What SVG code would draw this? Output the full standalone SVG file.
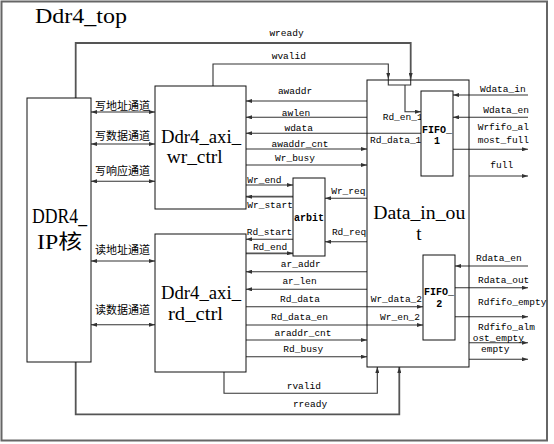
<svg xmlns="http://www.w3.org/2000/svg" width="554" height="444" viewBox="0 0 554 444">
<defs>
<marker id="ah" viewBox="0 0 6 4" refX="6" refY="2" markerWidth="6" markerHeight="4" markerUnits="userSpaceOnUse" orient="auto-start-reverse"><path d="M0,0 L6,2 L0,4 z" fill="#333"/></marker>
<style>
.box{fill:#fff;stroke:#111;stroke-width:1}
.c{fill:none;stroke:#333;stroke-width:1.1}
.cw{fill:none;stroke:#555;stroke-width:1.8}
.a{marker-end:url(#ah)}
.d{marker-start:url(#ah);marker-end:url(#ah)}
.s{font-family:"Liberation Mono","DejaVu Sans Mono",monospace;font-size:9.5px;fill:#000}
.m{text-anchor:middle}
.e{text-anchor:end}
.b{font-family:"Liberation Mono","DejaVu Sans Mono",monospace;font-size:10px;font-weight:bold;fill:#000}
.big{font-family:"Liberation Serif","Noto Sans CJK SC",serif;font-size:18px;fill:#000}
.cn{font-family:"Noto Sans CJK SC",sans-serif;font-size:11px;fill:#000;text-anchor:middle}
</style>
</defs>
<rect x="1.5" y="1.5" width="545.5" height="439" fill="#fff" stroke="#666" stroke-width="2"/>
<text x="35" y="23" class="big" style="font-size:21px" textLength="92" lengthAdjust="spacingAndGlyphs">Ddr4_top</text>

<g id="connectors">
<path class="cw a" d="M75.7,98 V43 H410.7 V79"/>
<path class="c a" d="M213,86 V64 H388.3 V79"/>
<path class="c" d="M388.3,79 V85 H410.7 V79"/>
<path class="c a" d="M405,85 V111.7 H421"/>
<path class="c a" d="M367,101 H246"/>
<path class="c a" d="M367,117.3 H246"/>
<path class="c a" d="M421,133.3 H246"/>
<path class="c a" d="M246,149 H367"/>
<path class="c a" d="M246,165 H367"/>
<path class="c a" d="M246,185 H293"/>
<path class="cw a" d="M293,196.7 H246"/>
<path class="c a" d="M367,198.3 H325"/>
<path class="c a" d="M293,239.3 H246"/>
<path class="c a" d="M367,241.7 H325"/>
<path class="cw a" d="M246,253.3 H293"/>
<path class="c a" d="M367,271.7 H246"/>
<path class="c a" d="M367,289.3 H246"/>
<path class="c a" d="M246,306.7 H423"/>
<path class="c a" d="M246,325 H423"/>
<path class="c a" d="M246,340 H367"/>
<path class="c a" d="M246,356.7 H367"/>
<path class="c a" d="M224,372 V393.3 H377.3 V367"/>
<path class="cw a" d="M75.7,362 V414.3 H399.3 V367"/>
<path class="c d" d="M91,112 H155"/>
<path class="c d" d="M91,144 H155"/>
<path class="c d" d="M91,181.3 H155"/>
<path class="c d" d="M91,261 H155"/>
<path class="c d" d="M91,324.7 H155"/>
<path class="c a" d="M528,95 H453"/>
<path class="c a" d="M528,117.3 H453"/>
<path class="c a" d="M453,149.3 H528"/>
<path class="c a" d="M469,176 H528"/>
<path class="c a" d="M528,266 H455"/>
<path class="c a" d="M455,287.7 H528"/>
<path class="c a" d="M455,316.7 H528"/>
<path class="c a" d="M469,342.7 H528"/>
<path class="c a" d="M469,359.3 H528"/>
</g>

<g id="labels">
<text class="s m" x="286.5" y="36">wready</text>
<text class="s m" x="288.8" y="59">wvalid</text>
<text class="s m" x="295" y="94">awaddr</text>
<text class="s m" x="296" y="115.5">awlen</text>
<text class="s m" x="298.7" y="130.7">wdata</text>
<text class="s m" x="300" y="147">awaddr_cnt</text>
<text class="s m" x="295" y="161">Wr_busy</text>
<text class="s" x="247.3" y="182.5">Wr_end</text>
<text class="s" x="247.3" y="207.5">Wr_start</text>
<text class="s m" x="348.3" y="194">Wr_req</text>
<text class="s" x="246.7" y="235">Rd_start</text>
<text class="s m" x="349" y="235">Rd_req</text>
<text class="s m" x="270" y="250">Rd_end</text>
<text class="s m" x="300.8" y="267">ar_addr</text>
<text class="s m" x="299.5" y="284">ar_len</text>
<text class="s m" x="300" y="301.7">Rd_data</text>
<text class="s e" x="422" y="301.7">Wr_data_2</text>
<text class="s m" x="299.5" y="320">Rd_data_en</text>
<text class="s e" x="420" y="320">Wr_en_2</text>
<text class="s m" x="303" y="336">araddr_cnt</text>
<text class="s m" x="303.3" y="352">Rd_busy</text>
<text class="s m" x="303.8" y="389">rvalid</text>
<text class="s m" x="310" y="407">rready</text>
<text class="s" x="382.7" y="119.5">Rd_en_1</text>
<text class="s" x="370" y="142.5">Rd_data_1</text>
<text class="s" x="480" y="91.7">Wdata_in</text>
<text class="s" x="483.3" y="113.3">Wdata_en</text>
<text class="s" x="477.7" y="130">Wrfifo_al</text>
<text class="s" x="477.7" y="143.3">most_full</text>
<text class="s m" x="501.7" y="168">full</text>
<text class="s" x="476" y="260.7">Rdata_en</text>
<text class="s" x="478" y="283.3">Rdata_out</text>
<text class="s" x="478" y="305">Rdfifo_empty</text>
<text class="s" x="478" y="330">Rdfifo_alm</text>
<text class="s" x="472.7" y="340.5">ost_empty</text>
<text class="s" x="481" y="352">empty</text>
<text class="cn" x="122.5" y="110">写地址通道</text>
<text class="cn" x="122.5" y="140">写数据通道</text>
<text class="cn" x="122.5" y="175">写响应通道</text>
<text class="cn" x="122.5" y="254">读地址通道</text>
<text class="cn" x="122.5" y="314">读数据通道</text>
</g>

<g id="ddr4_ip">
<rect class="box" x="27" y="98" width="64" height="264"/>
<text class="big" x="32" y="223" style="font-size:20px" textLength="55" lengthAdjust="spacingAndGlyphs">DDR4_</text>
<text class="big" x="37" y="249" style="font-size:20px" textLength="45" lengthAdjust="spacingAndGlyphs">IP核</text>
</g>

<g id="wr_ctrl">
<rect class="box" x="155" y="86" width="91" height="123"/>
<text class="big" x="161" y="143" textLength="80" lengthAdjust="spacingAndGlyphs">Ddr4_axi_</text>
<text class="big" x="166.7" y="163" textLength="56" lengthAdjust="spacingAndGlyphs">wr_ctrl</text>
</g>

<g id="rd_ctrl">
<rect class="box" x="155" y="234" width="91" height="138"/>
<text class="big" x="161" y="299" textLength="80" lengthAdjust="spacingAndGlyphs">Ddr4_axi_</text>
<text class="big" x="168" y="320" textLength="55" lengthAdjust="spacingAndGlyphs">rd_ctrl</text>
</g>

<g id="arbit">
<rect class="box" x="293" y="178" width="32" height="78"/>
<text class="b m" x="309" y="220.5">arbit</text>
</g>

<g id="data_in_out">
<rect class="box" x="367" y="80" width="102" height="287" fill="none" style="fill:none"/>
<text class="big" x="373.3" y="219" style="font-size:19px" textLength="92" lengthAdjust="spacingAndGlyphs">Data_in_ou</text>
<text class="big m" x="419" y="240" style="font-size:19px;text-anchor:middle">t</text>
</g>

<g id="fifo_1">
<rect class="box" x="421" y="91" width="32" height="85"/>
<text class="b" x="422" y="132.7" textLength="30" lengthAdjust="spacingAndGlyphs">FIFO_</text>
<text class="b m" x="437" y="144">1</text>
</g>

<g id="fifo_2">
<rect class="box" x="423" y="255" width="32" height="85"/>
<text class="b" x="424" y="295" textLength="30" lengthAdjust="spacingAndGlyphs">FIFO_</text>
<text class="b m" x="439.3" y="306.7">2</text>
</g>
</svg>
